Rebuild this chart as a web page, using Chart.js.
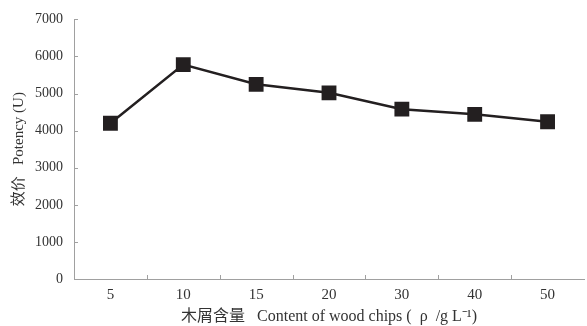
<!DOCTYPE html>
<html>
<head>
<meta charset="utf-8">
<script src="https://cdn.jsdelivr.net/npm/chart.js@4/dist/chart.umd.min.js"></script>
<style>
html,body{margin:0;padding:0;background:#fff;}
#wrap{width:587px;height:326px;}
</style>
</head>
<body>
<div id="wrap"><canvas id="c" width="587" height="326"></canvas></div>
<script>
const categories = ['5', '10', '15', '20', '30', '40', '50'];
const potency = [4200, 5780, 5250, 5020, 4580, 4440, 4240];
const yTicks = [0, 1000, 2000, 3000, 4000, 5000, 6000, 7000];

const serif = "'Liberation Serif', 'Times New Roman', serif";
const mixed = "'Liberation Serif', 'Noto Sans CJK SC', serif";
const axisColor = '#a0a0a0';
const textColor = '#333333';

const tickMarks = {
  id: 'tickMarks',
  afterDraw(chart) {
    const ctx = chart.ctx;
    const x = chart.scales.x, y = chart.scales.y;
    ctx.save();
    ctx.strokeStyle = axisColor;
    ctx.lineWidth = 1;
    ctx.beginPath();
    yTicks.forEach(v => {
      const py = Math.round(y.getPixelForValue(v)) + 0.5;
      ctx.moveTo(x.left, py); ctx.lineTo(x.left + 4, py);
    });
    const n = categories.length;
    for (let i = 0; i < n - 1; i++) {
      const px = Math.round((x.getPixelForTick(i) + x.getPixelForTick(i + 1)) / 2) + 0.5;
      ctx.moveTo(px, y.bottom); ctx.lineTo(px, y.bottom - 4);
    }
    ctx.stroke();
    ctx.restore();
  }
};

new Chart(document.getElementById('c'), {
  type: 'line',
  data: {
    labels: categories,
    datasets: [{
      data: potency,
      borderColor: '#231f20',
      backgroundColor: '#231f20',
      borderWidth: 2.5,
      pointStyle: 'rect',
      pointRadius: 10.5,
      pointHoverRadius: 10.5,
      pointBorderWidth: 0,
      tension: 0
    }]
  },
  options: {
    responsive: false,
    animation: false,
    events: [],
    layout: { autoPadding: false, padding: { top: 18, right: 3, left: 0, bottom: 0 } },
    plugins: { legend: { display: false }, tooltip: { enabled: false } },
    scales: {
      x: {
        offset: true,
        grid: { display: false, drawTicks: false },
        border: { display: true, color: axisColor, width: 1 },
        ticks: { color: textColor, font: { family: serif, size: 15 }, padding: 7, maxRotation: 0 },
        title: {
          display: true,
          text: '木屑含量   Content of wood chips (  ρ  /g L⁻¹)',
          color: textColor,
          font: { family: mixed, size: 16 },
          padding: { top: 3, bottom: 0 }
        },
        afterFit(s) { s.height = 47; s.paddingLeft = 0; s.paddingRight = 0; }
      },
      y: {
        min: 0, max: 7000,
        grid: { display: false, drawTicks: false },
        border: { display: true, color: axisColor, width: 1 },
        ticks: {
          stepSize: 1000, color: textColor, font: { family: serif, size: 14 }, padding: 11,
          callback: (v) => String(v)
        },
        title: {
          display: true,
          text: '效价   Potency (U)',
          color: textColor,
          font: { family: mixed, size: 15 },
          padding: { top: 10, bottom: 0 }
        },
        afterFit(s) { s.width = 74; }
      }
    }
  },
  plugins: [tickMarks]
});
</script>
</body>
</html>
